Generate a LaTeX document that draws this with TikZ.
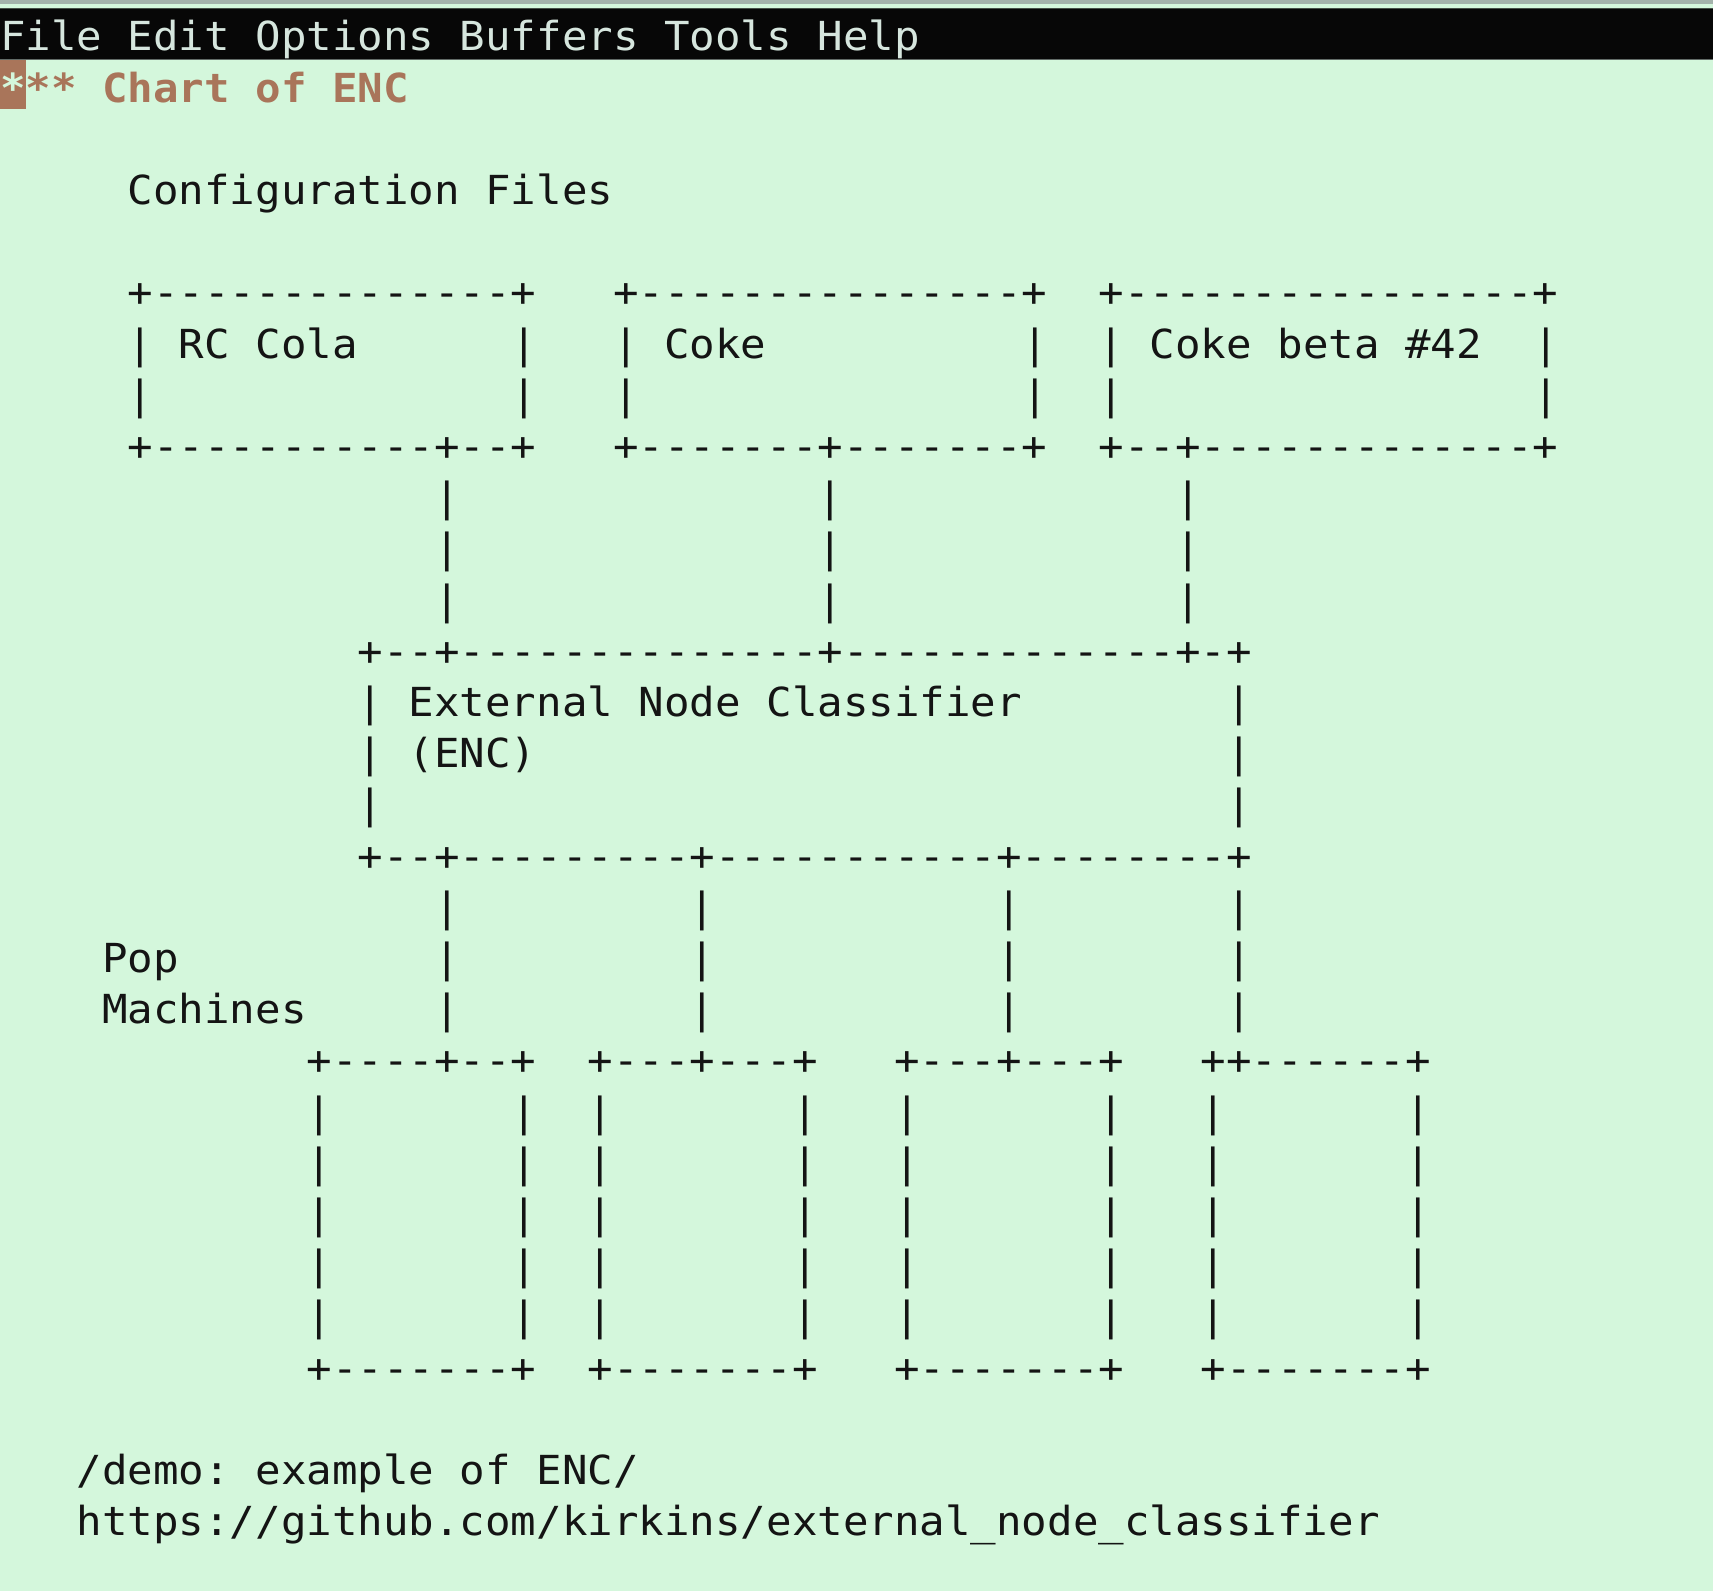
\documentclass[tikz,border=0pt]{standalone}
\usepackage{fontspec}
\setmonofont[FakeStretch=1.061]{DejaVu Sans Mono}
\definecolor{bgc}{HTML}{D4F7DC}
\definecolor{ink}{HTML}{141414}
\definecolor{brownc}{HTML}{A9755A}
\definecolor{menuc}{HTML}{D6E6DE}
\definecolor{barc}{HTML}{070707}
\definecolor{stripc}{HTML}{A3B3AB}
\newcommand\cw{25.55}
\newcommand\lbase{50.8}
\newcommand\lh{51.2}
\tikzset{
  txt/.style={anchor=base west, inner sep=0pt, outer sep=0pt, text=ink,
    font=\ttfamily\fontsize{40}{48}\selectfont},
  menutxt/.style={txt, text=menuc},
  ttltxt/.style={txt, text=brownc, font=\ttfamily\bfseries\fontsize{40}{48}\selectfont},
}
\begin{document}
\begin{tikzpicture}[x=1pt,y=-1pt]
\useasboundingbox (0,0) rectangle (1713,1591);
% background and window chrome
\fill[bgc] (0,0) rectangle (1713,1591);
\fill[stripc] (0,0) rectangle (1713,3.5);
\fill[barc!70!bgc] (0,7.5) rectangle (1713,9);
\fill[barc] (0,9) rectangle (1713,59);
\fill[stripc!60!black] (0,59) rectangle (1713,60);
% line 0: menu bar
\node[menutxt] (menu) at (0,{\lbase}) {File Edit Options Buffers Tools Help};
% line 1: heading with cursor
\fill[brownc] (0,60) rectangle ({\cw},108.5);
\node[ttltxt, text=bgc] (cursorstar) at (0,{\lbase+\lh}) {*};
\node[ttltxt] (heading) at ({\cw},{\lbase+\lh}) {** Chart of ENC};
% line 3
\node[txt] (conf) at ({5*\cw},{\lbase+3*\lh}) {Configuration Files};
% line 5: tops of configuration boxes
\node[txt] (t1) at ({5*\cw},{\lbase+5*\lh}) {+--------------+};
\node[txt] (t2) at ({24*\cw},{\lbase+5*\lh}) {+---------------+};
\node[txt] (t3) at ({43*\cw},{\lbase+5*\lh}) {+----------------+};
% line 6
\node[txt] (rc) at ({5*\cw},{\lbase+6*\lh}) {| RC Cola};
\node[txt] (rcr) at ({20*\cw},{\lbase+6*\lh}) {|};
\node[txt] (coke) at ({24*\cw},{\lbase+6*\lh}) {| Coke};
\node[txt] (coker) at ({40*\cw},{\lbase+6*\lh}) {|};
\node[txt] (beta) at ({43*\cw},{\lbase+6*\lh}) {| Coke beta \#42};
\node[txt] (betar) at ({60*\cw},{\lbase+6*\lh}) {|};
% line 7
\foreach \c in {5,20,24,40,43,60}
  \node[txt] (v7-\c) at ({\c*\cw},{\lbase+7*\lh}) {|};
% line 8: bottoms of configuration boxes
\node[txt] (b1) at ({5*\cw},{\lbase+8*\lh}) {+-----------+--+};
\node[txt] (b2) at ({24*\cw},{\lbase+8*\lh}) {+-------+-------+};
\node[txt] (b3) at ({43*\cw},{\lbase+8*\lh}) {+--+-------------+};
% lines 9-11: upper connectors
\foreach \l in {9,10,11}
  \foreach \c in {17,32,46}
    \node[txt] (v\l-\c) at ({\c*\cw},{\lbase+\l*\lh}) {|};
% line 12: top of ENC box
\node[txt] (enct) at ({14*\cw},{\lbase+12*\lh}) {+--+--------------+-------------+-+};
% lines 13-15
\node[txt] (enc1) at ({14*\cw},{\lbase+13*\lh}) {| External Node Classifier};
\node[txt] (enc1r) at ({48*\cw},{\lbase+13*\lh}) {|};
\node[txt] (enc2) at ({14*\cw},{\lbase+14*\lh}) {| (ENC)};
\node[txt] (enc2r) at ({48*\cw},{\lbase+14*\lh}) {|};
\node[txt] (enc3) at ({14*\cw},{\lbase+15*\lh}) {|};
\node[txt] (enc3r) at ({48*\cw},{\lbase+15*\lh}) {|};
% line 16: bottom of ENC box
\node[txt] (encb) at ({14*\cw},{\lbase+16*\lh}) {+--+---------+-----------+--------+};
% lines 17-19: lower connectors
\foreach \l in {17,18,19}
  \foreach \c in {17,27,39,48}
    \node[txt] (v\l-\c) at ({\c*\cw},{\lbase+\l*\lh}) {|};
\node[txt] (pop) at ({4*\cw},{\lbase+18*\lh}) {Pop};
\node[txt] (mach) at ({4*\cw},{\lbase+19*\lh}) {Machines};
% line 20: tops of pop machine boxes
\node[txt] (p1) at ({12*\cw},{\lbase+20*\lh}) {+----+--+};
\node[txt] (p2) at ({23*\cw},{\lbase+20*\lh}) {+---+---+};
\node[txt] (p3) at ({35*\cw},{\lbase+20*\lh}) {+---+---+};
\node[txt] (p4) at ({47*\cw},{\lbase+20*\lh}) {++------+};
% lines 21-25: sides of pop machine boxes
\foreach \l in {21,22,23,24,25}
  \foreach \c in {12,20,23,31,35,43,47,55}
    \node[txt] (v\l-\c) at ({\c*\cw},{\lbase+\l*\lh}) {|};
% line 26: bottoms of pop machine boxes
\foreach \c in {12,23,35,47}
  \node[txt] (q\c) at ({\c*\cw},{\lbase+26*\lh}) {+-------+};
% lines 28-29
\node[txt] (demo) at ({3*\cw},{\lbase+28*\lh}) {/demo: example of ENC/};
\node[txt] (url) at ({3*\cw},{\lbase+29*\lh}) {https://github.com/kirkins/external\_node\_classifier};
\end{tikzpicture}
\end{document}
